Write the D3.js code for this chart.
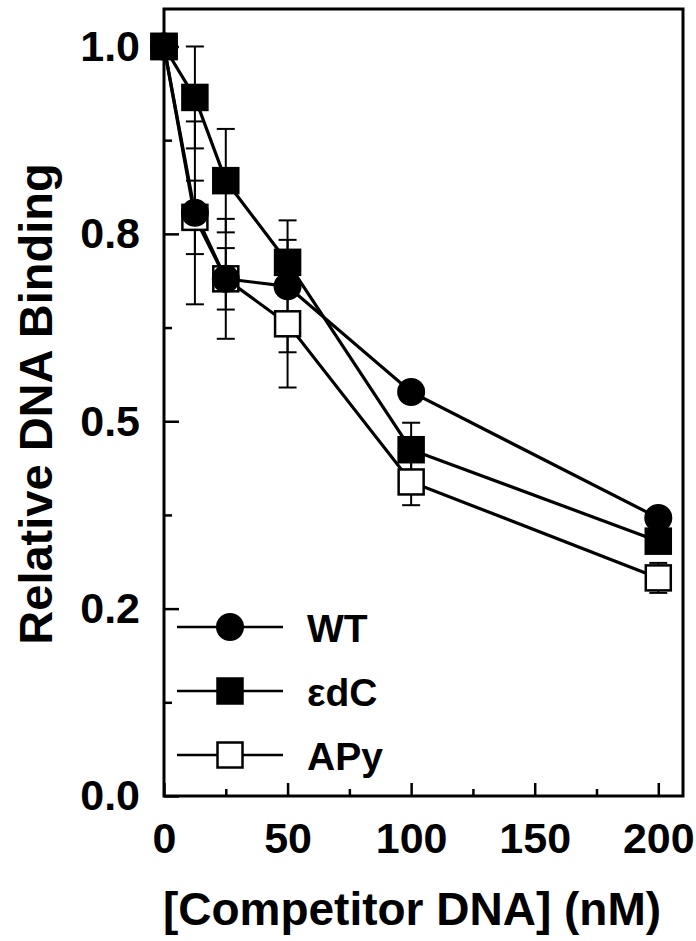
<!DOCTYPE html>
<html>
<head>
<meta charset="utf-8">
<script src="https://cdn.jsdelivr.net/npm/d3@7"></script>
<style>
  body { margin: 0; background: #fff; }
  svg text { font-family: "Liberation Sans", Arial, sans-serif; font-weight: bold; fill: #000; }
</style>
</head>
<body>
<svg id="chart" width="696" height="941"></svg>
<script>
'use strict';
// competitor concentrations (nM)
var conc = [0, 12.5, 25, 50, 100, 200];
// relative binding + error, per series
var wt = [1.0, 0.778, 0.69, 0.68, 0.539, 0.371];
var wtErr = [0, 0.122, 0.08, 0.088, 0.01, 0.01];
var edc = [1.0, 0.932, 0.821, 0.712, 0.462, 0.34];
var edcErr = [0, 0.068, 0.069, 0.03, 0.036, 0.01];
var apy = [1.0, 0.772, 0.69, 0.63, 0.419, 0.291];
var apyErr = [0, 0.049, 0.041, 0.085, 0.031, 0.02];

var xTickVals = [0, 50, 100, 150, 200];
var xMinorVals = [25, 75, 125, 175];
var yTickVals = [0, 0.25, 0.5, 0.75, 1.0];
var yTickLabels = ['0.0', '0.2', '0.5', '0.8', '1.0'];
var yMinorVals = [0.125, 0.375, 0.625, 0.875];

drawChart();

function drawChart() {
    var svg = d3.select('#chart');
    var plotLeft = 164, plotRight = 683, plotTop = 9, plotBottom = 796;

    var x = d3.scaleLinear().domain([0, 210]).range([plotLeft, plotRight]);
    var y = d3.scaleLinear().domain([0, 1.05]).range([plotBottom, plotTop]);

    // axes, ticks pointing inward
    var xAxis = d3.axisBottom(x).tickValues(xTickVals).tickSize(-13).tickPadding(26);
    var xMinor = d3.axisBottom(x).tickValues(xMinorVals).tickSize(-7).tickFormat('');
    var yAxis = d3.axisLeft(y).tickValues(yTickVals).tickSize(-15).tickPadding(24)
            .tickFormat(function (d, i) { return yTickLabels[i]; });
    var yMinor = d3.axisLeft(y).tickValues(yMinorVals).tickSize(-8).tickFormat('');

    function styleAxis(g) {
        g.select('.domain').remove();
        g.selectAll('line').attr('stroke', '#000').attr('stroke-width', 2.5);
        g.selectAll('text').attr('fill', '#000').style('font-size', '43px');
    }

    svg.append('g').attr('transform', 'translate(0,' + plotBottom + ')').call(xAxis).call(styleAxis);
    svg.append('g').attr('transform', 'translate(0,' + plotBottom + ')').call(xMinor).call(styleAxis);
    svg.append('g').attr('transform', 'translate(' + plotLeft + ',0)').call(yAxis).call(styleAxis);
    svg.append('g').attr('transform', 'translate(' + plotLeft + ',0)').call(yMinor).call(styleAxis);

    // frame
    svg.append('rect')
            .attr('x', plotLeft).attr('y', plotTop)
            .attr('width', plotRight - plotLeft).attr('height', plotBottom - plotTop)
            .attr('fill', 'none').attr('stroke', '#000').attr('stroke-width', 3);

    // axis titles
    svg.append('text')
            .attr('x', 412).attr('y', 925)
            .attr('text-anchor', 'middle')
            .style('font-size', '46px')
            .text('[Competitor DNA] (nM)');
    svg.append('text')
            .attr('transform', 'translate(52,404) rotate(-90)')
            .attr('text-anchor', 'middle')
            .style('font-size', '47px')
            .text('Relative DNA Binding');

    var series = [
        {name: 'APy', vals: apy, err: apyErr, shape: 'square', fill: '#fff'},
        {name: 'WT', vals: wt, err: wtErr, shape: 'circle', fill: '#000'},
        {name: '\u03b5dC', vals: edc, err: edcErr, shape: 'square', fill: '#000'}
    ];

    var line = d3.line()
            .x(function (d) { return x(d[0]); })
            .y(function (d) { return y(d[1]); });

    function drawMarker(g, shape, fill, cx, cy) {
        if (shape === 'circle') {
            g.append('circle').attr('cx', cx).attr('cy', cy).attr('r', 13)
                    .attr('fill', fill).attr('stroke', '#000').attr('stroke-width', 2);
        } else {
            g.append('rect').attr('x', cx - 12.5).attr('y', cy - 12.5)
                    .attr('width', 25).attr('height', 25)
                    .attr('fill', fill).attr('stroke', '#000').attr('stroke-width', 2.5);
        }
    }

    // lines
    series.forEach(function (s) {
        svg.append('path')
                .datum(conc.map(function (c, i) { return [c, s.vals[i]]; }))
                .attr('d', line)
                .attr('fill', 'none').attr('stroke', '#000').attr('stroke-width', 3.2);
    });

    // error bars
    series.forEach(function (s) {
        var eg = svg.append('g');
        conc.forEach(function (c, i) {
            if (!s.err[i]) return;
            var cx = x(c), y1 = y(s.vals[i] + s.err[i]), y2 = y(s.vals[i] - s.err[i]);
            eg.append('line').attr('x1', cx).attr('x2', cx).attr('y1', y1).attr('y2', y2)
                    .attr('stroke', '#000').attr('stroke-width', 2);
            [y1, y2].forEach(function (yy) {
                eg.append('line').attr('x1', cx - 9).attr('x2', cx + 9).attr('y1', yy).attr('y2', yy)
                        .attr('stroke', '#000').attr('stroke-width', 2);
            });
        });
    });

    // markers
    series.forEach(function (s) {
        var mg = svg.append('g');
        conc.forEach(function (c, i) {
            drawMarker(mg, s.shape, s.fill, x(c), y(s.vals[i]));
        });
    });

    // legend
    var legendOrder = [series[1], series[2], series[0]];
    var legendY = [627, 691, 755];
    legendOrder.forEach(function (s, i) {
        var lg = svg.append('g');
        lg.append('line').attr('x1', 177).attr('x2', 283).attr('y1', legendY[i]).attr('y2', legendY[i])
                .attr('stroke', '#000').attr('stroke-width', 2.5);
        drawMarker(lg, s.shape, s.fill, 230, legendY[i]);
        lg.append('text').attr('x', 307).attr('y', legendY[i] + 15)
                .style('font-size', '39px')
                .text(s.name);
    });
}
</script>
</body>
</html>
